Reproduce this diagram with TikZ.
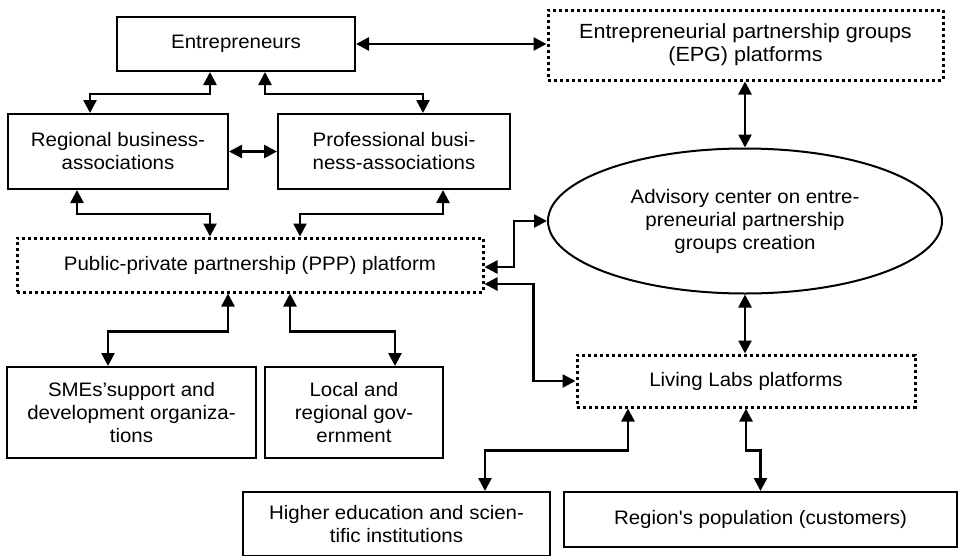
\documentclass[tikz,border=0pt]{standalone}
\usepackage{fontspec}
\setmainfont{Liberation Sans}[FakeStretch=1.05, Ligatures=TeXOff]
\usetikzlibrary{positioning,shapes.geometric,arrows.meta}

\begin{document}
\begin{tikzpicture}[x=1pt, y=-1pt,
    every node/.style={align=center, inner sep=0pt, font=\fontsize{19.5}{23}\selectfont},
    box/.style={draw, line width=2pt},
    platform/.style={draw, line width=3pt, dash pattern=on 3pt off 3pt},
    link/.style={line width=2.6pt, {Triangle[length=13pt,width=13pt]}-{Triangle[length=13pt,width=13pt]}}]

    \useasboundingbox (0,0) rectangle (959,555);
    \clip (0,0) rectangle (959,555);

    % Boxes and platforms
    \node[box, minimum width=238pt, minimum height=54pt] (entr) at (236,44) {Entrepreneurs};
    \node[platform, minimum width=395pt, minimum height=70pt, font=\fontsize{20.5}{23}\selectfont] (epg) at (745.5,45) {Entrepreneurial partnership groups\\(EPG) platforms};
    \node[box, minimum width=220pt, minimum height=75pt] (regba) at (118,151.5) {Regional business-\\associations};
    \node[box, minimum width=232pt, minimum height=75pt] (profba) at (394,151.5) {Professional busi-\\ness-associations};
    \node[draw, ellipse, line width=2pt, minimum width=394pt, minimum height=145pt] (adv) at (745,221) {Advisory center on entre-\\preneurial partnership\\groups creation};
    \node[platform, minimum width=466pt, minimum height=54pt] (ppp) at (250,265) {Public-private partnership (PPP) platform};
    \node[platform, minimum width=338pt, minimum height=52pt] (ll) at (746,381) {Living Labs platforms};
    \node[box, minimum width=249pt, minimum height=91pt] (sme) at (131.5,412.5) {SMEs’support and\\development organiza-\\tions};
    \node[box, minimum width=178pt, minimum height=91pt] (lrg) at (354,412.5) {Local and\\regional gov-\\ernment};
    \node[box, minimum width=307pt, minimum height=64pt] (hei) at (396.5,524) {Higher education and scien-\\tific institutions};
    \node[box, minimum width=393pt, minimum height=55pt] (pop) at (760.5,519.5) {Region's population (customers)};

    % Links
    \draw[link] (entr.east) -- (entr.east -| epg.west);
    \draw[link] ([xshift=-26pt]entr.south) -- ++(0,22) -| ([xshift=-28pt]regba.north);
    \draw[link] ([xshift=29pt]entr.south) -- ++(0,22) -| ([xshift=29pt]profba.north);
    \draw[link] (regba.east) -- (profba.west);
    \draw[link] ([xshift=-41pt]regba.south) -- ++(0,24) -| ([xshift=-40pt]ppp.north);
    \draw[link] ([xshift=49pt]profba.south) -- ++(0,24) -| ([xshift=50pt]ppp.north);
    \draw[link] ([xshift=-22pt]ppp.south) -- ++(0,38) -| ([xshift=-23.5pt]sme.north);
    \draw[link] ([xshift=40pt]ppp.south) -- ++(0,38) -| ([xshift=41pt]lrg.north);
    \draw[link] (adv.north |- epg.south) -- (adv.north);
    \draw[link] (adv.south) -- (adv.south |- ll.north);
    \draw[link] (adv.west) -- ++(-33,0) |- ([yshift=-2pt]ppp.east);
    \draw[link] ([yshift=-19pt]ppp.east) -- ++(49,0) |- (ll.west);
    \draw[link] ([xshift=-118pt]ll.south) -- ++(0,42) -| ([xshift=88.5pt]hei.north);
    \draw[link] (ll.south) -- ++(0,42) -| (pop.north);
\end{tikzpicture}
\end{document}
